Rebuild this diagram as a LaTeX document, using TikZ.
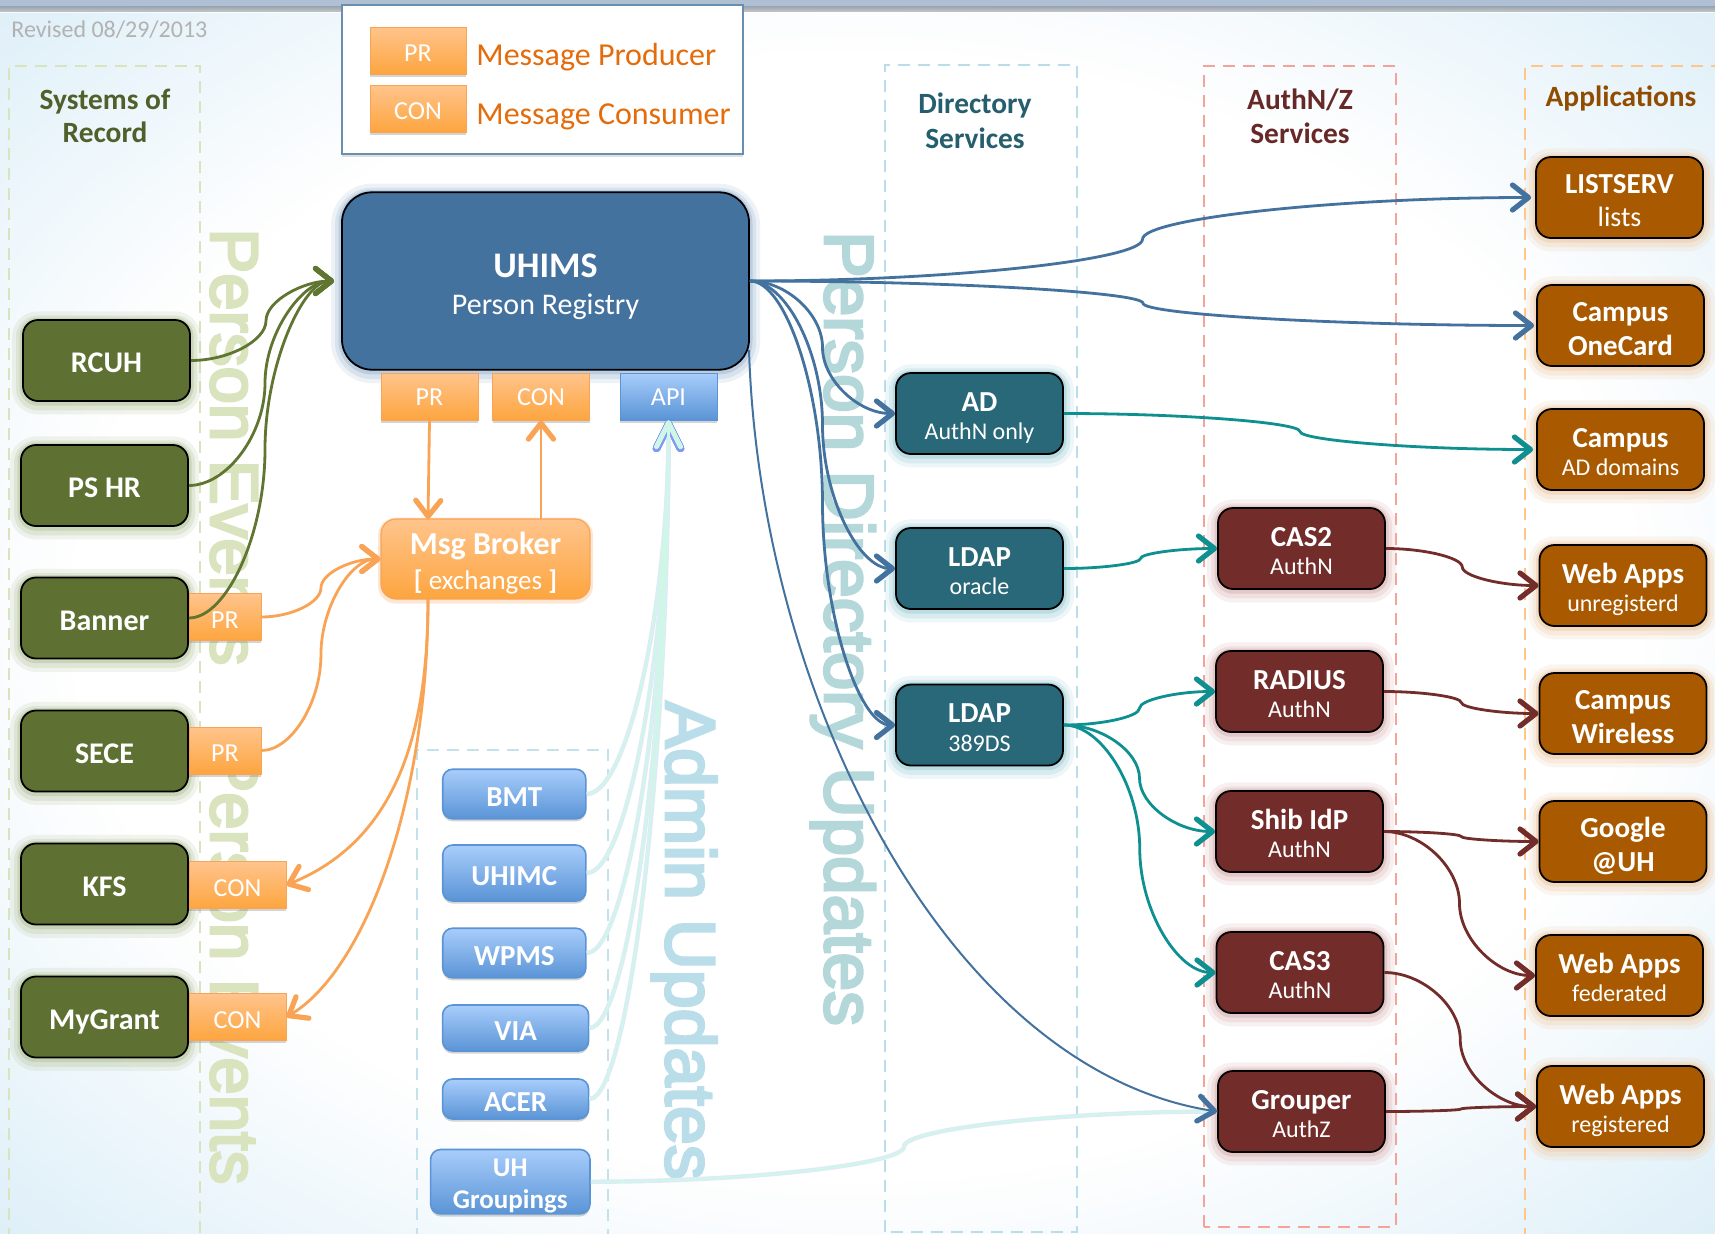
\documentclass[tikz,border=0pt]{standalone}
\usepackage{fontspec}
\setmainfont{Carlito}
\newfontfamily\wmfont[FakeBold=4]{Liberation Sans}
\usetikzlibrary{arrows.meta,calc}
\definecolor{bgblue}{HTML}{DEEFF8}
\definecolor{stripc}{HTML}{AFC0D4}
\definecolor{olive}{HTML}{5F7033}
\definecolor{oliveline}{HTML}{5F7530}
\definecolor{oliveglow}{HTML}{BCC9A4}
\definecolor{tealbox}{HTML}{296878}
\definecolor{tealglow}{HTML}{A9D2DC}
\definecolor{tealline}{HTML}{0E9090}
\definecolor{maroon}{HTML}{722D2B}
\definecolor{maroonglow}{HTML}{DDB8B8}
\definecolor{brownbox}{HTML}{A95A00}
\definecolor{brownglow}{HTML}{EFCFAF}
\definecolor{uhblue}{HTML}{44729F}
\definecolor{uhglow}{HTML}{A9BFD8}
\definecolor{orangeline}{HTML}{F9A355}
\definecolor{orangetop}{HTML}{FFC48C}
\definecolor{orangebot}{HTML}{FDA53F}
\definecolor{legendtext}{HTML}{E46C0A}
\definecolor{bluetop}{HTML}{A8CDFB}
\definecolor{bluebot}{HTML}{5A94D6}
\definecolor{mintline}{HTML}{D0F6E8}
\definecolor{lavline}{HTML}{E3E6FF}
\definecolor{lavtip}{HTML}{7F9BF5}
\definecolor{wmolive}{HTML}{D9E4BF}
\definecolor{wmteal}{HTML}{B4D7DA}
\definecolor{wmblue}{HTML}{B9DDE9}
\newcommand{\sconn}[3][]{\draw[#1] let \p1=(#2),\p2=(#3),\p3=($(\p1)!.25!(\p2)$),\p4=($(\p1)!.5!(\p2)$),\p5=($(\p1)!.75!(\p2)$) in
  (\p1) .. controls (\x3,\y1) and (\x4,\y3) .. (\p4) .. controls (\x4,\y5) and (\x5,\y2) .. (\p2);}
\newcommand{\qconn}[3][]{\draw[#1] let \p1=(#2),\p2=(#3),\p3=($(\p1)!.5!(\p2)$) in
  (\p1) .. controls (\x3,\y1) and (\x2,\y3) .. (\p2);}
\newcommand{\hb}[1]{{\fontsize{14.5}{15}\selectfont\bfseries\rule{0pt}{15pt}#1}}
\newcommand{\lt}[1]{{\fontsize{12}{15}\selectfont #1\rule[-3pt]{0pt}{3pt}}}
\newcommand{\bb}[2]{\rule{0pt}{15.5pt}#1\\#2\rule[-3pt]{0pt}{3pt}}
\tikzset{
  x=.5pt,y=-.5pt,
  barb/.style={-{Straight Barb[round,length=8pt,width=12.5pt,line width=2.6pt]}},
  glowbox/.style={
    preaction={draw=#1,line width=11pt,draw opacity=.2,line join=round,transform canvas={yshift=-1.2pt}},
    preaction={draw=#1,line width=7pt,draw opacity=.3,line join=round,transform canvas={yshift=-1.2pt}},
    preaction={draw=#1,line width=3.5pt,draw opacity=.6,line join=round,transform canvas={yshift=-.6pt}}},
  darkbox/.style={draw=black,line width=.9pt,rounded corners=7.5pt,inner sep=0pt,text=white,align=center,
    minimum width=83.5pt,minimum height=40.5pt,font=\fontsize{12}{14.2}\selectfont},
  sysbox/.style={darkbox,fill=olive,glowbox=oliveglow,text height=16.2pt,text depth=4pt,font=\fontsize{15}{17}\selectfont\bfseries},
  dirbox/.style={darkbox,fill=tealbox,glowbox=tealglow},
  authbox/.style={darkbox,fill=maroon,glowbox=maroonglow},
  appbox/.style={darkbox,fill=brownbox,glowbox=brownglow},
  appbold/.style={appbox,font=\fontsize{14.5}{17}\selectfont\bfseries},
  tabshadow/.style={preaction={fill=black!55,fill opacity=.3,transform canvas={yshift=-1.3pt}}},
  tabbox/.style={tabshadow,draw=orangeline,line width=.5pt,top color=orangetop,bottom color=orangebot,
    inner sep=0pt,minimum height=23.5pt,text=white,text height=12.5pt,text depth=1.4pt,font=\fontsize{13}{15}\selectfont},
  apibox/.style={tabshadow,draw=bluebot,line width=.5pt,top color=bluetop,bottom color=bluebot,
    inner sep=0pt,minimum height=23.5pt,text=white,text height=10.8pt,text depth=1.4pt,font=\fontsize{13}{15}\selectfont},
  adminbox/.style={tabshadow,draw=bluebot,line width=.8pt,top color=bluetop,bottom color=bluebot,rounded corners=5pt,
    inner sep=0pt,text=white,align=center,font=\fontsize{14.5}{15.5}\selectfont\bfseries},
  adminone/.style={adminbox,text height=14pt,text depth=1.5pt},
  zone/.style={line width=1pt,dash pattern=on 6pt off 4pt},
  zonetitle/.style={inner sep=0pt,align=center},
  wm/.style={anchor=base west,rotate=-90,inner sep=0pt},
  link/.style={line width=1.4pt,barb},
  bluelink/.style={link,draw=uhblue},
  olivelink/.style={link,draw=oliveline,shorten >=3.5pt},
  orangelink/.style={link,draw=orangeline},
  teallink/.style={link,draw=tealline},
  maroonlink/.style={link,draw=maroon},
  lavlink/.style={line width=2.2pt,draw=lavline,-{Straight Barb[round,length=12pt,width=12pt,line width=3.8pt,color=lavtip]}},
  mintlink/.style={line width=1.3pt,draw=mintline,-{Straight Barb[round,length=12pt,width=12pt,line width=2.2pt,color=mintline]}},
}
\begin{document}
\begin{tikzpicture}
\useasboundingbox (0,0) rectangle (1715,1233);
\clip (0,0) rectangle (1715,1233);
% background: a soft pale-blue vignette towards the corners
\fill[bgblue] (0,0) rectangle (1715,1233);
\foreach \r in {71,70,...,46}{
  \pgfmathsetmacro{\mixp}{(\r-46)/25*100}
  \fill[bgblue!\mixp!white] (857.5,616.5) ellipse [x radius={8.575*\r*1pt}, y radius={6.165*\r*1pt}];
}
\fill[top color=stripc,bottom color=white,opacity=.7] (0,5) rectangle (1715,12);
\fill[stripc] (0,0) rectangle (1715,6);
% watermarks
\node[wm,text=wmolive,font=\wmfont\fontsize{33.6}{34}\selectfont] (wmevents1) at (211,228) {Person Events};
\node[wm,text=wmolive,font=\wmfont\fontsize{33.6}{34}\selectfont] (wmevents2) at (211,747) {Person Events};
\node[wm,text=wmteal,font=\wmfont\fontsize{34.7}{35}\selectfont] (wmdir) at (825,231) {Person Directory Updates};
\node[wm,text=wmblue,font=\wmfont\fontsize{35}{35}\selectfont] (wmadmin) at (666,701) {Admin Updates};
% zones
\draw[zone,draw=wmolive] (9,1300) -- (9,66) -- (200,66) -- (200,1300);
\draw[zone,draw=wmblue] (885,1232) rectangle (1077,65);
\draw[zone,draw=red!60!brown!45!white] (1204,1227) rectangle (1396,66);
\draw[zone,draw=orange!45!white] (1525,1300) -- (1525,66) -- (1760,66);
\draw[zone,draw=wmblue!85!white] (417,1300) -- (417,750) -- (608,750) -- (608,1300);
% titles
\node[inner sep=0pt,font=\fontsize{12}{14}\selectfont,anchor=west,text=gray!60!white] (revised) at (11,30) {Revised 08/29/2013};
\node[zonetitle,text=olive!85!black,font=\fontsize{14.7}{16.5}\selectfont\bfseries] (tsys) at (105,116) {Systems of\\Record};
\node[zonetitle,text=tealbox!90!black,font=\fontsize{14.7}{17.5}\selectfont\bfseries] (tdir) at (975,121) {Directory\\Services};
\node[zonetitle,text=maroon!90!black,font=\fontsize{14.7}{17}\selectfont\bfseries] (tauth) at (1300,116) {AuthN/Z\\Services};
\node[zonetitle,text=brownbox!85!black,font=\fontsize{14.7}{17}\selectfont\bfseries] (tapps) at (1621,98) {Applications};
% legend
\node[draw=uhblue!80!white,line width=1pt,fill=white,inner sep=0pt,minimum width=200.5pt,minimum height=74.5pt,preaction={fill=black!40,fill opacity=.3,transform canvas={yshift=-1.3pt}}] (legend) at (542.5,79.5) {};
\node[tabbox,minimum width=48pt] (lpr) at (418,50.5) {PR};
\node[tabbox,minimum width=48pt] (lcon) at (418,108.5) {CON};
\node[inner sep=0pt,anchor=west,text=legendtext,font=\fontsize{16}{18}\selectfont] (lprt) at (476,57) {Message Producer};
\node[inner sep=0pt,anchor=west,text=legendtext,font=\fontsize{16}{18}\selectfont] (lcont) at (476,117) {Message Consumer};
% systems
\node[sysbox] (rcuh) at (106.5,360.5) {RCUH};
\node[sysbox] (pshr) at (104.5,485.5) {PS HR};
\node[sysbox] (banner) at (104.5,618) {Banner};
\node[sysbox] (sece) at (104.5,751) {SECE};
\node[sysbox] (kfs) at (104.5,884) {KFS};
\node[sysbox] (mygrant) at (104.5,1017) {MyGrant};
% producer / consumer tabs on systems
\node[tabbox,minimum width=36pt] (bannerpr) at (225,617) {PR};
\node[tabbox,minimum width=36pt] (secepr) at (225,750.5) {PR};
\node[tabbox,minimum width=48.5pt] (kfscon) at (237.5,885) {CON};
\node[tabbox,minimum width=48.5pt] (mygrantcon) at (237.5,1017) {CON};
% UHIMS
\node[draw=black,line width=.9pt,fill=uhblue,rounded corners=15pt,glowbox=uhglow,minimum width=203.5pt,minimum height=88.7pt,inner sep=0pt,text=white,align=center,font=\fontsize{15}{18.7}\selectfont] (uhims) at (545.5,281) {{\fontsize{18}{19}\selectfont\bfseries\rule{0pt}{20.2pt}UHIMS}\\Person Registry\rule[-5pt]{0pt}{5pt}};
\node[tabbox,minimum width=48.5pt,text height=10.8pt] (tabpr) at (429.5,396.5) {PR};
\node[tabbox,minimum width=48.5pt,text height=10.8pt] (tabcon) at (541,396.5) {CON};
\node[apibox,minimum width=48.5pt] (tabapi) at (668.5,396.5) {API};
% broker
\node[draw=orangeline,line width=.6pt,top color=orangetop,bottom color=orangebot,rounded corners=7.5pt,inner sep=0pt,
  preaction={draw=orangeline!50!white,line width=3pt,draw opacity=.5,transform canvas={yshift=-.8pt}},
  minimum width=104.5pt,minimum height=40pt,text=white,align=center,font=\fontsize{13.5}{17.5}\selectfont] (broker) at (485.5,559)
  {{\fontsize{16}{18}\selectfont\bfseries\rule{0pt}{17.5pt}Msg Broker}\\{\bfseries [} exchanges {\bfseries ]}\rule[-5pt]{0pt}{5pt}};
\coordinate (brokertopin) at (428,519);
\coordinate (brokertopout) at (541,519);
\coordinate (brokerbottom) at (428,599);
% admin
\node[adminone,minimum width=71.6pt,minimum height=24.8pt] (bmt) at (514.3,794) {BMT};
\node[adminone,minimum width=71.6pt,minimum height=28pt] (uhimc) at (514.3,873) {UHIMC};
\node[adminone,minimum width=71.6pt,minimum height=24.8pt] (wpms) at (514.3,953) {WPMS};
\node[adminone,minimum width=73pt,minimum height=23pt] (via) at (515.6,1028) {VIA};
\node[adminone,minimum width=73pt,minimum height=20pt] (acer) at (515.6,1099) {ACER};
\node[adminbox,minimum width=79.7pt,minimum height=32.2pt,font=\fontsize{13.5}{16}\selectfont\bfseries] (groupings) at (510.3,1181.7) {\rule{0pt}{13.2pt}UH\\Groupings};
% directories
\node[dirbox] (ad) at (979.5,413.5) {\hb{AD}\\\lt{AuthN only}};
\node[dirbox] (ldapo) at (979.5,568.5) {\hb{LDAP}\\\lt{oracle}};
\node[dirbox] (ldapds) at (979.5,725) {\hb{LDAP}\\\lt{389DS}};
% auth
\node[authbox] (cas2) at (1301.5,548.5) {\hb{CAS2}\\\lt{AuthN}};
\node[authbox] (radius) at (1299.5,691.5) {\hb{RADIUS}\\\lt{AuthN}};
\node[authbox] (shib) at (1299.5,831.5) {\hb{Shib IdP}\\\lt{AuthN}};
\node[authbox] (cas3) at (1300,972.5) {\hb{CAS3}\\\lt{AuthN}};
\node[authbox] (grouper) at (1301.5,1111.5) {\hb{Grouper}\\\lt{AuthZ}};
% apps
\node[appbox,font=\fontsize{14}{16.5}\selectfont] (listserv) at (1619.5,197.5) {{\fontsize{14.5}{15}\selectfont\bfseries\rule{0pt}{15pt}LISTSERV}\\lists\rule[-3pt]{0pt}{3pt}};
\node[appbold] (onecard) at (1620.5,325.5) {\bb{Campus}{OneCard}};
\node[appbox] (campusad) at (1620.5,449.5) {\hb{Campus}\\\lt{AD domains}};
\node[appbox] (webu) at (1623,585.5) {\hb{Web Apps}\\\lt{unregisterd}};
\node[appbold] (wireless) at (1623,713.5) {\bb{Campus}{Wireless}};
\node[appbold] (google) at (1623,841.5) {\bb{Google}{@UH}};
\node[appbox] (webf) at (1619.5,975.5) {\hb{Web Apps}\\\lt{federated}};
\node[appbox] (webr) at (1620.5,1106.5) {\hb{Web Apps}\\\lt{registered}};
% connectors: systems to UHIMS
\sconn[olivelink]{rcuh.east}{uhims.west}
\sconn[olivelink]{pshr.east}{uhims.west}
\sconn[olivelink]{banner.east}{uhims.west}
% connectors: message broker
\sconn[orangelink]{bannerpr.east}{broker.west}
\sconn[orangelink]{secepr.east}{broker.west}
\draw[orangelink] (tabpr.south) -- (brokertopin);
\draw[orangelink] (brokertopout) -- (tabcon.south);
\draw[orangelink] (brokerbottom) .. controls (428,742) and (392,842) .. (kfscon.east);
\draw[orangelink] (brokerbottom) .. controls (428,800) and (365,970) .. (mygrantcon.east);
% connectors: admin updates
\qconn[lavlink]{bmt.east}{tabapi.south}
\qconn[lavlink]{uhimc.east}{tabapi.south}
\qconn[lavlink]{wpms.east}{tabapi.south}
\qconn[lavlink]{via.east}{tabapi.south}
\qconn[lavlink]{acer.east}{tabapi.south}
\sconn[line width=2.2pt,draw=lavline]{groupings.east}{grouper.west}
\qconn[mintlink]{bmt.east}{tabapi.south}
\qconn[mintlink]{uhimc.east}{tabapi.south}
\qconn[mintlink]{wpms.east}{tabapi.south}
\qconn[mintlink]{via.east}{tabapi.south}
\qconn[mintlink]{acer.east}{tabapi.south}
\sconn[line width=1.3pt,draw=mintline]{groupings.east}{grouper.west}
% connectors: UHIMS out
\sconn[bluelink,shorten >=2pt]{uhims.east}{listserv.west}
\sconn[bluelink,shorten >=1pt]{uhims.east}{onecard.west}
\sconn[bluelink]{uhims.east}{ad.west}
\sconn[bluelink]{uhims.east}{ldapo.west}
\sconn[bluelink]{uhims.east}{ldapds.west}
\coordinate (uhimslow) at (749,350);
\draw[bluelink,line width=1pt] (uhimslow) .. controls (760,700) and (950,1070) .. (grouper.west);
% connectors: directories
\sconn[teallink,shorten >=1.5pt]{ad.east}{campusad.west}
\sconn[teallink]{ldapo.east}{cas2.west}
\sconn[teallink]{ldapds.east}{radius.west}
\sconn[teallink]{ldapds.east}{shib.west}
\sconn[teallink]{ldapds.east}{cas3.west}
% connectors: auth
\sconn[maroonlink]{cas2.east}{webu.west}
\sconn[maroonlink]{radius.east}{wireless.west}
\sconn[maroonlink]{shib.east}{google.west}
\sconn[maroonlink]{shib.east}{webf.west}
\sconn[maroonlink]{cas3.east}{webr.west}
\sconn[maroonlink]{grouper.east}{webr.west}
\end{tikzpicture}
\end{document}
